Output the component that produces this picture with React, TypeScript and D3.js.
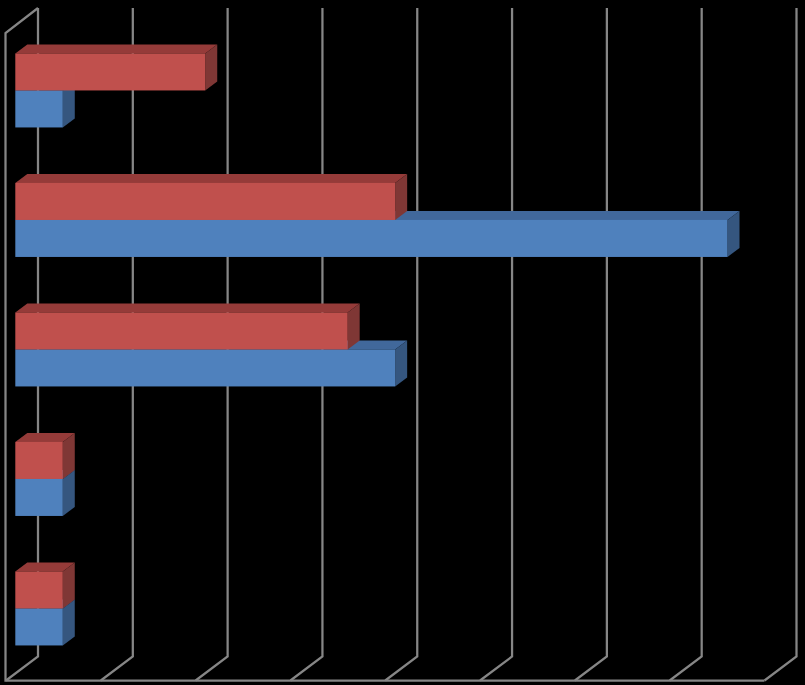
import * as d3 from "d3";

const W = 805, H = 685;

const categories = ["a", "b", "c", "d", "e"];
const blueValues = [0.5, 7.5, 4, 0.5, 0.5];
const redValues = [2, 4, 3.5, 0.5, 0.5];
const ticks = [0, 1, 2, 3, 4, 5, 6, 7, 8];

// Floor depth of the 3D box, and depth of each bar
const DX = 32, DY = -24;
const BAR_DX = 12, BAR_DY = -9;
const BAR_H = 37;
const GRID = "#868686";

const x = d3.scaleLinear().domain([0, 8]).range([6, 764.5]);
const barX = d3.scaleLinear().domain([0, 8]).range([15.3, 775]);
const y = d3.scaleBand<string>().domain(categories).range([25.7, 673.2]);

function Bar({ cat, value, offset, face, top, side }: {
  cat: string; value: number; offset: number; face: string; top: string; side: string;
}) {
  const x0 = barX(0), x1 = barX(value);
  const y0 = y(cat)! + y.bandwidth() / 2 + offset;
  const y1 = y0 + BAR_H;
  const line = d3.line();
  return (
    <g>
      <path fill={top} d={line([[x0, y0], [x0 + BAR_DX, y0 + BAR_DY], [x1 + BAR_DX, y0 + BAR_DY], [x1, y0]]) + "Z"} />
      <path fill={side} d={line([[x1, y0], [x1 + BAR_DX, y0 + BAR_DY], [x1 + BAR_DX, y1 + BAR_DY], [x1, y1]]) + "Z"} />
      <rect x={x0} y={y0} width={x1 - x0} height={BAR_H} fill={face} />
    </g>
  );
}

export default function App() {
  const floorY = 680.5, topY = 8;
  return (
    <svg width={W} height={H} style={{ position: "absolute", left: 0, top: 0, background: "#000" }}>
      <g stroke={GRID} strokeWidth={2.25} fill="none">
        {ticks.map((t) => (
          <path key={t} d={`M${x(t) + DX},${topY}V${floorY + DY}L${x(t)},${floorY}`} />
        ))}
        <path d={`M${x(0) + DX},${topY}L${x(0) - 0.5},${topY - DY + 1}V${floorY}H${x(8)}`} />
      </g>
      {categories.map((c, i) => (
        <g key={c}>
          <Bar cat={c} value={blueValues[i]} offset={0} face="#4f81bd" top="#41689b" side="#35567f" />
          <Bar cat={c} value={redValues[i]} offset={-BAR_H} face="#c0504d" top="#953b39" side="#7f3735" />
        </g>
      ))}
    </svg>
  );
}
